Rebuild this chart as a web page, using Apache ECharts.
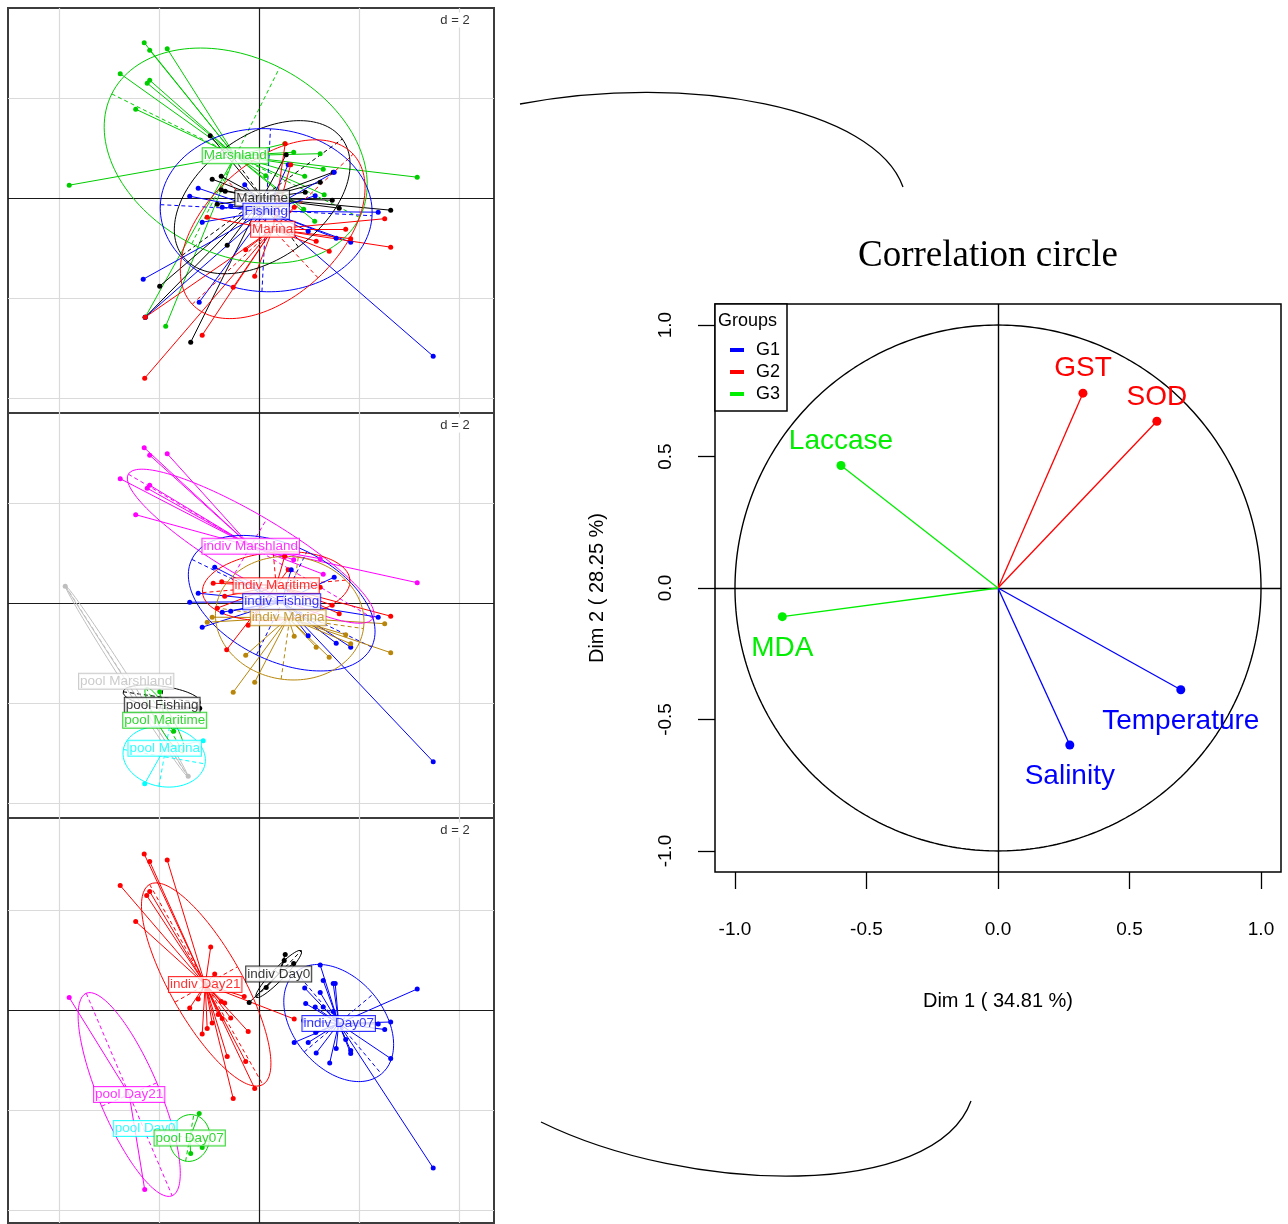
<!DOCTYPE html>
<html><head><meta charset="utf-8">
<script src="https://cdn.jsdelivr.net/npm/echarts@6/dist/echarts.min.js"></script>
<style>html,body{margin:0;padding:0;background:#fff}#c{width:1288px;height:1224px}</style>
</head><body><div id="c"></div>
<script>
// ================= DATA =================
const gridTicks = [-4, -2, 0, 2, 4];

// ---- Panel 1 : Marshland / Maritime / Fishing / Marina ----
const p1Groups = ['Marshland', 'Maritime', 'Fishing', 'Marina'];
const p1Centroids = [[-0.49, 0.86], [0.05, 0.01], [0.13, -0.25], [0.26, -0.61]];
// ellipse: [cx, cy, semi-major, semi-minor, angle deg]
const p1Ellipses = [[-0.48, 0.86, 2.77, 1.97, -26.5], [0.05, 0.03, 1.98, 1.23, 36], [0.13, -0.23, 2.12, 1.63, -3], [0.26, -0.61, 2.2, 1.33, 43]];
const p1_Marshland = [[-2.31,3.12],[-2.20,2.97],[-1.85,3.00],[-2.79,2.50],[-2.20,2.37],[-2.25,2.31],[-2.48,1.79],[-3.81,0.27],[3.15,0.43],[1.21,0.90],[1.27,0.59],[0.50,1.10],[0.68,0.93],[0.90,0.45],[1.29,0.08],[0.88,-0.21],[1.10,-0.45],[0.12,0.46],[-2.29,-2.37],[-1.88,-2.55]];
const p1_Maritime = [[-0.99,1.26],[-0.95,0.39],[-0.77,0.45],[-0.77,0.18],[-0.69,0.15],[-0.85,-0.11],[-0.65,-0.93],[-2.00,-1.75],[-1.38,-2.87],[-2.29,-2.37],[1.21,0.33],[1.45,-0.03],[1.59,-0.19],[2.62,-0.23],[1.47,0.53],[0.91,0.13],[0.53,0.88]];
const p1_Fishing = [[-0.30,0.28],[-1.23,0.21],[-1.40,0.05],[-0.75,-0.17],[-0.58,-0.15],[-1.15,-0.47],[-2.33,-1.61],[-1.21,-2.07],[-2.29,-2.37],[1.11,0.06],[1.49,0.53],[2.37,-0.27],[0.97,-0.65],[1.53,-0.79],[1.82,-0.87],[3.47,-3.15],[0.57,0.68]];
const p1_Marina = [[-1.05,-0.37],[-0.28,-1.02],[-0.10,-1.55],[-0.53,-1.77],[-1.15,-2.73],[-2.30,-3.59],[-2.29,-2.37],[0.69,-0.17],[1.72,-0.61],[1.82,-0.80],[2.50,-0.40],[2.62,-0.97],[1.13,-0.85],[1.39,-1.05],[0.51,1.10],[0.62,0.68]];

// ---- Panel 2 : indiv / pool by site ----
const p2Groups = ['indiv Marshland', 'indiv Maritime', 'indiv Fishing', 'indiv Marina', 'pool Marshland', 'pool Fishing', 'pool Maritime', 'pool Marina'];
const p2Centroids = [[-0.18, 1.15], [0.33, 0.36], [0.44, 0.04], [0.57, -0.28], [-2.67, -1.55], [-1.95, -2.03], [-1.90, -2.33], [-1.90, -2.89]];
const p2Ellipses = [[-0.18, 1.15, 2.84, 0.63, -30.5], [0.33, 0.35, 1.48, 0.68, 5], [0.44, 0.01, 2.0, 1.15, -26], [0.60, -0.29, 1.49, 1.23, -8], [-2.66, -1.55, 2.27, 0.08, -57.3], [-1.96, -1.87, 0.78, 0.22, -8], [-1.90, -2.33, 0.75, 0.15, -60], [-1.91, -3.06, 0.83, 0.6, -10]];
const p2_indivMarshland = [[-2.31,3.12],[-2.20,2.97],[-1.85,3.00],[-2.79,2.50],[-2.20,2.37],[-2.25,2.31],[-2.48,1.78],[3.15,0.42],[1.21,0.90],[1.27,0.59],[0.50,0.95],[0.68,0.88]];
const p2_indivMaritime = [[-0.93,0.41],[-0.76,0.44],[-0.85,-0.09],[-0.66,-0.92],[-0.70,0.15],[-0.23,-0.43],[1.21,0.33],[1.45,-0.03],[1.59,-0.20],[2.62,-0.25],[0.50,0.95],[0.57,0.68]];
const p2_indivFishing = [[-0.90,0.73],[-1.23,0.21],[-1.40,0.03],[-0.75,-0.17],[-0.58,-0.15],[-1.15,-0.47],[1.49,0.53],[2.37,-0.27],[0.97,-0.64],[1.53,-0.79],[1.82,-0.87],[3.47,-3.16],[0.63,0.68]];
const p2_indivMarina = [[-1.05,-0.37],[-0.95,-0.27],[-0.28,-1.03],[-0.10,-1.57],[-0.53,-1.77],[0.69,-0.65],[1.13,-0.87],[1.39,-1.07],[1.72,-0.62],[1.82,-0.80],[2.50,-0.40],[2.62,-0.98]];
const p2_poolMarshland = [[-3.89,0.35],[-1.43,-3.45]];
const p2_poolFishing = [[-1.20,-2.09]];
const p2_poolMaritime = [[-2.00,-1.76],[-1.72,-2.55]];
const p2_poolMarina = [[-1.13,-2.74],[-2.30,-3.60]];

// ---- Panel 3 : indiv / pool by day ----
const p3Groups = ['indiv Day21', 'indiv Day0', 'indiv Day07', 'pool Day21', 'pool Day0', 'pool Day07'];
const p3Centroids = [[-1.09, 0.51], [0.38, 0.72], [1.58, -0.27], [-2.61, -1.69], [-2.29, -2.37], [-1.40, -2.56]];
const p3Ellipses = [[-1.07, 0.51, 2.3, 0.72, -60.5], [0.38, 0.72, 0.65, 0.12, 46], [1.58, -0.26, 1.33, 0.9, -50], [-2.61, -1.69, 2.2, 0.6, -67], null, [-1.40, -2.56, 0.47, 0.40, 80]];
const p3_indivDay21 = [[-2.31,3.12],[-2.20,2.97],[-1.85,3.00],[-2.79,2.49],[-2.20,2.37],[-2.26,2.29],[-2.48,1.77],[-0.98,1.26],[-0.90,0.72],[-1.23,0.22],[-1.40,0.04],[-0.77,0.17],[-0.70,0.14],[-0.83,-0.09],[-0.75,-0.17],[-0.58,-0.16],[-0.95,-0.26],[-1.05,-0.37],[-1.15,-0.48],[-0.23,-0.43],[-0.65,-0.93],[-0.28,-1.03],[-0.10,-1.57],[-0.53,-1.77],[-0.31,0.27],[0.69,-0.18]];
const p3_indivDay0 = [[0.51,1.11],[0.49,0.99],[0.68,0.93],[0.13,0.45],[-0.21,0.15]];
const p3_indivDay07 = [[1.21,0.90],[1.27,0.59],[1.47,0.53],[1.51,0.53],[0.90,0.44],[1.21,0.35],[0.92,0.13],[1.11,0.06],[1.27,0.06],[1.47,-0.03],[0.88,-0.21],[2.37,-0.28],[2.62,-0.24],[2.50,-0.39],[3.15,0.42],[0.69,-0.65],[0.97,-0.65],[1.12,-0.45],[1.53,-0.77],[1.82,-0.81],[1.82,-0.87],[1.72,-0.59],[1.13,-0.86],[1.40,-1.06],[2.62,-0.97],[3.47,-3.16]];
const p3_poolDay21 = [[-3.81,0.25],[-2.30,-3.59]];
const p3_poolDay0 = [];
const p3_poolDay07 = [[-1.21,-2.07],[-1.38,-2.87],[-1.15,-2.75]];

// ---- Correlation circle ----
const circleTicks = [-1, -0.5, 0, 0.5, 1];
const varNames = ['Temperature', 'Salinity', 'GST', 'SOD', 'Laccase', 'MDA'];
const varDim1 = [0.695, 0.273, 0.323, 0.604, -0.597, -0.820];
const varDim2 = [-0.387, -0.597, 0.741, 0.634, 0.466, -0.109];
const varGroup = ['G1', 'G1', 'G2', 'G2', 'G3', 'G3'];
const groupNames = ['G1', 'G2', 'G3'];

// ================= STYLE =================
const FONT = '"Liberation Sans", Arial, sans-serif';
const p1Colors = ['#00CD00', '#000000', '#0000FF', '#FF0000'];
const p2Colors = ['#FF00FF', '#FF0000', '#0000FF', '#B8860B', '#BEBEBE', '#000000', '#00CD00', '#00FFFF'];
const p3Colors = ['#FF0000', '#000000', '#0000FF', '#FF00FF', '#00FFFF', '#00CD00'];
const groupColors = {G1: '#0000FF', G2: '#FF0000', G3: '#00EE00'};

const panels = [
  {top: 8, origin: 198.7, groups: p1Groups, cents: p1Centroids, ells: p1Ellipses, colors: p1Colors,
   pts: [p1_Marshland, p1_Maritime, p1_Fishing, p1_Marina]},
  {top: 413, origin: 603.7, groups: p2Groups, cents: p2Centroids, ells: p2Ellipses, colors: p2Colors,
   pts: [p2_indivMarshland, p2_indivMaritime, p2_indivFishing, p2_indivMarina, p2_poolMarshland, p2_poolFishing, p2_poolMaritime, p2_poolMarina]},
  {top: 818, origin: 1010, groups: p3Groups, cents: p3Centroids, ells: p3Ellipses, colors: p3Colors,
   pts: [p3_indivDay21, p3_indivDay0, p3_indivDay07, p3_poolDay21, p3_poolDay0, p3_poolDay07]}
];
const PX = 50; // pixels per unit in left panels
const PANEL_LEFT = 8, PANEL_W = 486, PANEL_H = 405, ORIGIN_X = 259.7;

function ellipsePts(e) {
  const [cx, cy, a, b, deg] = e; const t = deg * Math.PI / 180; const out = [];
  for (let i = 0; i <= 144; i++) {
    const p = i / 144 * 2 * Math.PI;
    out.push([cx + a * Math.cos(t) * Math.cos(p) - b * Math.sin(t) * Math.sin(p),
              cy + a * Math.sin(t) * Math.cos(p) + b * Math.cos(t) * Math.sin(p)]);
  }
  return out;
}
function ellipseAxes(e) {
  const [cx, cy, a, b, deg] = e; const t = deg * Math.PI / 180;
  return [{coords: [[cx - a * Math.cos(t), cy - a * Math.sin(t)], [cx + a * Math.cos(t), cy + a * Math.sin(t)]]},
          {coords: [[cx + b * Math.sin(t), cy - b * Math.cos(t)], [cx - b * Math.sin(t), cy + b * Math.cos(t)]]}];
}

const grids = [], xAxes = [], yAxes = [], series = [], graphics = [];

panels.forEach((P, i) => {
  const xmin = (PANEL_LEFT - ORIGIN_X) / PX, xmax = (PANEL_LEFT + PANEL_W - ORIGIN_X) / PX;
  const ymax = (P.origin - P.top) / PX, ymin = (P.origin - P.top - PANEL_H) / PX;
  grids.push({left: PANEL_LEFT, top: P.top, width: PANEL_W, height: PANEL_H, show: true,
              borderColor: '#3c3c3c', borderWidth: 2, backgroundColor: '#fff'});
  xAxes.push({gridIndex: i, type: 'value', min: xmin, max: xmax, show: false});
  yAxes.push({gridIndex: i, type: 'value', min: ymin, max: ymax, show: false});
  const light = [], dark = [];
  gridTicks.forEach(t => {
    (t === 0 ? dark : light).push({coords: [[t, ymin], [t, ymax]]});
    if (t > ymin && t < ymax) (t === 0 ? dark : light).push({coords: [[xmin, t], [xmax, t]]});
  });
  series.push({type: 'lines', coordinateSystem: 'cartesian2d', xAxisIndex: i, yAxisIndex: i, silent: true, z: 1,
               data: light, lineStyle: {color: '#DADADA', width: 1.2, opacity: 1}});
  series.push({type: 'lines', coordinateSystem: 'cartesian2d', xAxisIndex: i, yAxisIndex: i, silent: true, z: 2,
               data: dark, lineStyle: {color: '#1a1a1a', width: 1.2, opacity: 1}});
  P.groups.forEach((g, k) => {
    const col = P.colors[k], c = P.cents[k], pts = P.pts[k];
    series.push({type: 'lines', coordinateSystem: 'cartesian2d', xAxisIndex: i, yAxisIndex: i, silent: true, z: 3,
                 data: pts.map(p => ({coords: [p, c]})), lineStyle: {color: col, width: 1, opacity: 1}});
    if (P.ells[k]) {
      series.push({type: 'line', xAxisIndex: i, yAxisIndex: i, silent: true, z: 3, showSymbol: false,
                   data: ellipsePts(P.ells[k]), lineStyle: {color: col, width: 1}});
      series.push({type: 'lines', coordinateSystem: 'cartesian2d', xAxisIndex: i, yAxisIndex: i, silent: true, z: 3,
                   data: ellipseAxes(P.ells[k]), lineStyle: {color: col, width: 1, type: [4, 3], opacity: 1}});
    }
    series.push({type: 'scatter', xAxisIndex: i, yAxisIndex: i, silent: true, z: 4, symbolSize: 5,
                 data: pts, itemStyle: {color: col, opacity: 1}});
  });
  P.groups.forEach((g, k) => {
    const col = P.colors[k];
    series.push({type: 'scatter', xAxisIndex: i, yAxisIndex: i, silent: true, z: 10, symbolSize: 0,
                 data: [{value: P.cents[k], name: g}],
                 label: {show: true, position: 'inside', formatter: '{b}', color: col, fontSize: 13.5, fontFamily: FONT,
                         backgroundColor: '#fff', borderColor: col, borderWidth: 1, padding: [1, 1, 0, 1]}});
  });
  graphics.push({type: 'text', x: 455, y: P.top + 12, z: 100,
                 style: {text: 'd = 2', x: 0, y: 0, align: 'center', verticalAlign: 'middle', font: '13px ' + FONT,
                         fill: '#333', backgroundColor: '#fff', padding: [1, 2]}});
});

// ---- Correlation circle grid ----
const CI = 3;
grids.push({left: 715, top: 304, width: 566, height: 568, show: true, borderColor: '#000', borderWidth: 1.5});
xAxes.push({gridIndex: CI, type: 'value', min: -1.076, max: 1.076, position: 'bottom',
  axisLine: {show: false, onZero: false}, splitLine: {show: false},
  axisTick: {show: true, inside: false, customValues: circleTicks, length: 17, lineStyle: {color: '#000', width: 1.3}},
  axisLabel: {customValues: circleTicks, formatter: v => v.toFixed(1), margin: 48, fontSize: 19, color: '#000', fontFamily: FONT},
  name: 'Dim 1 ( 34.81 %)', nameLocation: 'middle', nameGap: 119,
  nameTextStyle: {fontSize: 20, color: '#000', fontFamily: FONT}});
yAxes.push({gridIndex: CI, type: 'value', min: -1.08, max: 1.08, position: 'left',
  axisLine: {show: false, onZero: false}, splitLine: {show: false},
  axisTick: {show: true, inside: false, customValues: circleTicks, length: 17, lineStyle: {color: '#000', width: 1.3}},
  axisLabel: {customValues: circleTicks, formatter: v => v.toFixed(1), rotate: 90, margin: 40, fontSize: 19, color: '#000', fontFamily: FONT},
  name: 'Dim 2 ( 28.25 %)', nameLocation: 'middle', nameGap: 108, nameRotate: 90,
  nameTextStyle: {fontSize: 20, color: '#000', fontFamily: FONT}});

const unitCircle = [];
for (let i = 0; i <= 360; i++) { const a = i * Math.PI / 180; unitCircle.push([Math.cos(a), Math.sin(a)]); }
series.push({type: 'line', xAxisIndex: CI, yAxisIndex: CI, silent: true, showSymbol: false, z: 2,
             data: unitCircle, lineStyle: {color: '#000', width: 1.4}});
series.push({type: 'lines', coordinateSystem: 'cartesian2d', xAxisIndex: CI, yAxisIndex: CI, silent: true, z: 2,
             data: [{coords: [[-1.076, 0], [1.076, 0]]}, {coords: [[0, -1.08], [0, 1.08]]}],
             lineStyle: {color: '#000', width: 1.4, opacity: 1}});
groupNames.forEach(g => {
  const idx = varNames.map((n, j) => j).filter(j => varGroup[j] === g);
  const col = groupColors[g];
  series.push({name: g, type: 'lines', coordinateSystem: 'cartesian2d', xAxisIndex: CI, yAxisIndex: CI, silent: true, z: 3,
               data: idx.map(j => ({coords: [[0, 0], [varDim1[j], varDim2[j]]]})),
               lineStyle: {color: col, width: 1.3, opacity: 1}});
  series.push({name: g, type: 'scatter', xAxisIndex: CI, yAxisIndex: CI, silent: true, z: 4, symbolSize: 9,
               itemStyle: {color: col, opacity: 1},
               data: idx.map(j => ({value: [varDim1[j], varDim2[j]], name: varNames[j],
                                    label: varDim2[j] > 0 ? {position: 'top', distance: 6} : {position: 'bottom', distance: 13}})),
               label: {show: true, formatter: '{b}', color: col, fontSize: 28, fontFamily: FONT}});
});

// legend box and decorative connector arcs
graphics.push({type: 'rect', z: 50, shape: {x: 715, y: 304, width: 72, height: 107},
               style: {fill: '#fff', stroke: '#000', lineWidth: 1.5}});
graphics.push({type: 'text', z: 51, x: 718, y: 321,
               style: {text: 'Groups', x: 0, y: 0, verticalAlign: 'middle', font: '18px ' + FONT, fill: '#000'}});
graphics.push({type: 'bezierCurve', z: 5,
               shape: {x1: 520, y1: 104, cpx1: 690, cpy1: 72, cpx2: 875, cpy2: 108, x2: 903, y2: 187},
               style: {stroke: '#000', lineWidth: 1.3, fill: null}});
graphics.push({type: 'bezierCurve', z: 5,
               shape: {x1: 541, y1: 1122, cpx1: 690, cpy1: 1195, cpx2: 935, cpy2: 1200, x2: 971, y2: 1101},
               style: {stroke: '#000', lineWidth: 1.3, fill: null}});

const chart = echarts.init(document.getElementById('c'));
chart.setOption({
  animation: false,
  backgroundColor: '#fff',
  title: {text: 'Correlation circle', left: 983, top: 233, textAlign: 'center',
          textStyle: {fontFamily: '"Liberation Serif", "Times New Roman", serif', fontSize: 37, fontWeight: 'normal', color: '#000'}},
  legend: {show: true, orient: 'vertical', left: 725, top: 336, z: 60, selectedMode: false,
           icon: 'rect', itemWidth: 12, itemHeight: 2, itemGap: 4,
           data: groupNames.map(g => ({name: g, itemStyle: {color: groupColors[g]}})),
           textStyle: {fontSize: 18, color: '#000', fontFamily: FONT, padding: [0, 0, 0, 8]}},
  grid: grids, xAxis: xAxes, yAxis: yAxes, series: series, graphic: graphics
});
</script>
</body></html>
